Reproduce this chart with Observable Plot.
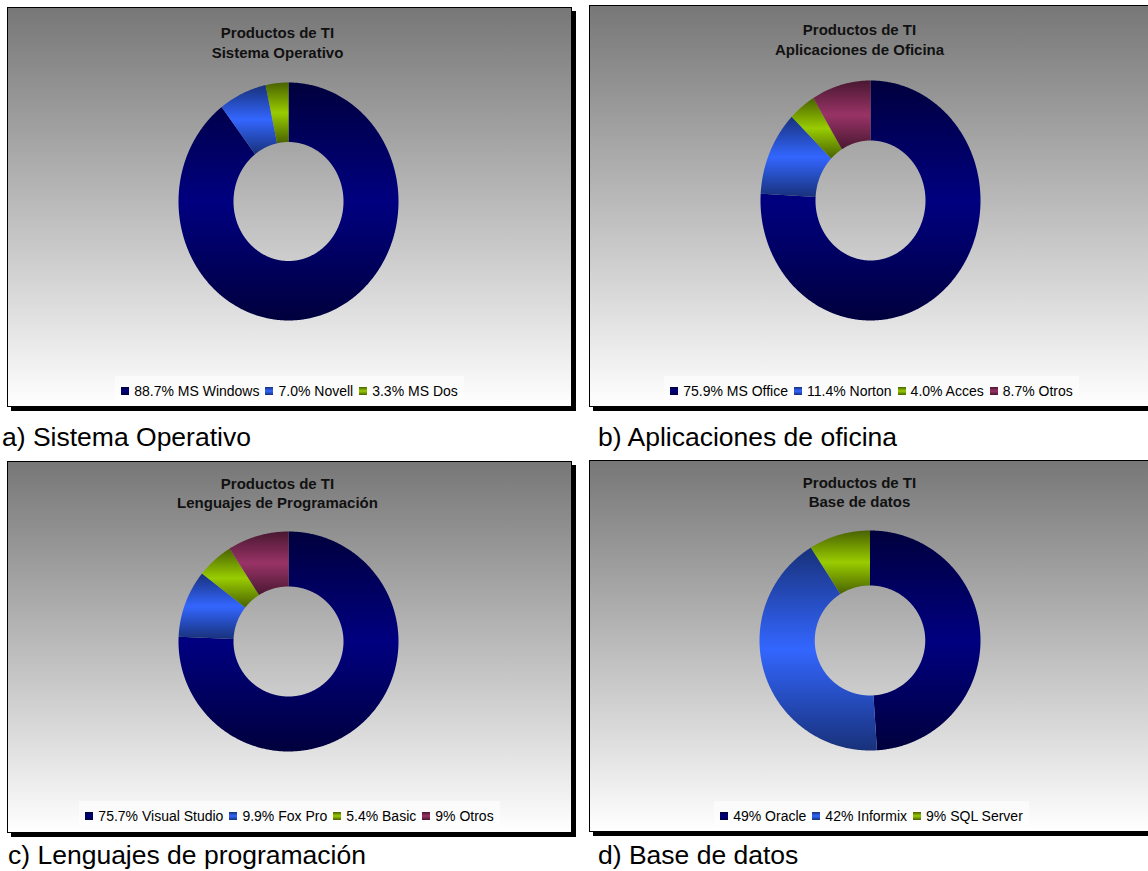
<!DOCTYPE html>
<html>
<head>
<meta charset="utf-8">
<script src="https://cdn.jsdelivr.net/npm/d3@7"></script>
<script src="https://cdn.jsdelivr.net/npm/@observablehq/plot@0.6"></script>
<style>
  body { margin: 0; background: #fff; font-family: "Liberation Sans", Arial, sans-serif; }
  #page { position: relative; width: 1148px; height: 871px; overflow: hidden; background: #fff; }
  .panel { position: absolute; box-sizing: border-box; border: 1px solid #000; box-shadow: 4px 4px 0 #000;
           background: linear-gradient(#777777 0%, #ffffff 100%); }
  .chart { position: absolute; }
  .title { position: absolute; text-align: center; font-weight: bold; font-size: 15px; line-height: 15px; color: #111; white-space: nowrap; }
  .legendWrap { position: absolute; display: flex; justify-content: center; }
  .legend { display: flex; align-items: center; font-size: 14px; line-height: 16px; color: #000; padding: 7px 6px 1px 6px;
            background: rgba(255,255,255,0.55); white-space: nowrap; }
  .sw { display: inline-block; width: 8px; height: 8px; margin-right: 5px; }
  .item { display: flex; align-items: center; margin-right: 6px; }
  .item:last-child { margin-right: 0; }
  .caption { position: absolute; font-size: 26.5px; line-height: 26px; color: #000; white-space: nowrap; }
</style>
</head>
<body>
<div id="page"></div>
<script>
// ---------- data ----------
const colors = ["#000080", "#3366ff", "#99cc00", "#993366"];

const soNames = ["MS Windows", "Novell", "MS Dos"];
const soValues = [88.7, 7.0, 3.3];
const soPct = ["88.7%", "7.0%", "3.3%"];

const ofNames = ["MS Office", "Norton", "Acces", "Otros"];
const ofValues = [75.9, 11.4, 4.0, 8.7];
const ofPct = ["75.9%", "11.4%", "4.0%", "8.7%"];

const lpNames = ["Visual Studio", "Fox Pro", "Basic", "Otros"];
const lpValues = [75.7, 9.9, 5.4, 9];
const lpPct = ["75.7%", "9.9%", "5.4%", "9%"];

const dbNames = ["Oracle", "Informix", "SQL Server"];
const dbValues = [49, 42, 9];
const dbPct = ["49%", "42%", "9%"];

const mainTitle = "Productos de TI";
const subTitles = ["Sistema Operativo", "Aplicaciones de Oficina", "Lenguajes de Programación", "Base de datos"];
const captions = ["a) Sistema Operativo", "b) Aplicaciones de oficina", "c) Lenguajes de programación", "d) Base de datos"];

// ---------- layout ----------
const panels = [
  {names: soNames, values: soValues, pct: soPct, left: 7, top: 7, w: 565, h: 400, cx: 281, cy: 194, rx: 110, ry: 119, t1: 24.6, t2: 44.8, lg: 376, capX: 2, capY: 423.5},
  {names: ofNames, values: ofValues, pct: ofPct, left: 589, top: 5, w: 565, h: 402, cx: 281, cy: 195, rx: 110, ry: 120, t1: 21.8, t2: 42.3, lg: 376, capX: 598, capY: 423.5},
  {names: lpNames, values: lpValues, pct: lpPct, left: 7, top: 461, w: 565, h: 372, cx: 281, cy: 180, rx: 110, ry: 110, t1: 475.6, t2: 494.6, lg: 801, capX: 8, capY: 841.8},
  {names: dbNames, values: dbValues, pct: dbPct, left: 589, top: 460, w: 565, h: 372, cx: 280.5, cy: 180, rx: 110.5, ry: 110, t1: 474.6, t2: 494.3, lg: 801, capX: 598, capY: 841.8}
];
const titleShift = -24; // titles centred ~12px left of the panel centre

const dark = c => d3.interpolateRgb(c, "#000")(0.52);

// gradient defs (shared by all SVGs)
const defsSvg = d3.select("body").append("svg").attr("width", 0).attr("height", 0)
  .style("position", "absolute").style("left", 0).style("top", 0);
const defs = defsSvg.append("defs");
colors.forEach((c, i) => {
  const g = defs.append("linearGradient").attr("id", "g" + i).attr("x1", 0).attr("y1", 0).attr("x2", 0).attr("y2", 1);
  g.append("stop").attr("offset", "0%").attr("stop-color", dark(c));
  g.append("stop").attr("offset", "50%").attr("stop-color", c);
  g.append("stop").attr("offset", "100%").attr("stop-color", dark(c));
});

function slicePoints(values, names) {
  const total = d3.sum(values);
  const pts = [];
  let acc = 0;
  values.forEach((v, i) => {
    const a0 = acc / total * 2 * Math.PI, a1 = (acc + v) / total * 2 * Math.PI;
    acc += v;
    const n = Math.max(2, Math.ceil((a1 - a0) / (Math.PI / 360)));
    for (let k = 0; k <= n; k++) {
      const a = a0 + (a1 - a0) * k / n;
      pts.push({key: names[i], fill: `url(#g${i})`, x: Math.sin(a), y: Math.cos(a)});
    }
    for (let k = n; k >= 0; k--) {
      const a = a0 + (a1 - a0) * k / n;
      pts.push({key: names[i], fill: `url(#g${i})`, x: 0.5 * Math.sin(a), y: 0.5 * Math.cos(a)});
    }
  });
  return pts;
}

const page = document.getElementById("page");

panels.forEach((p, pi) => {
  const panel = document.createElement("div");
  panel.className = "panel";
  Object.assign(panel.style, {left: p.left + "px", top: p.top + "px", width: p.w + "px", height: p.h + "px"});
  page.appendChild(panel);

  const chart = Plot.plot({
    width: p.w, height: p.h,
    margin: 0,
    style: {background: "transparent", maxWidth: "none", overflow: "visible"},
    x: {domain: [-1, 1], range: [p.cx - p.rx, p.cx + p.rx], axis: null},
    y: {domain: [-1, 1], range: [p.cy + p.ry, p.cy - p.ry], axis: null},
    color: {type: "identity"},
    marks: [
      Plot.line(slicePoints(p.values, p.names), {
        x: "x", y: "y", z: "key", fill: "fill", stroke: "none", curve: "linear-closed"
      })
    ]
  });
  chart.classList.add("chart");
  chart.style.left = p.left + "px";
  chart.style.top = p.top + "px";
  page.appendChild(chart);

  [[mainTitle, p.t1], [subTitles[pi], p.t2]].forEach(([txt, y]) => {
    const t = document.createElement("div");
    t.className = "title";
    t.textContent = txt;
    Object.assign(t.style, {left: p.left + "px", width: (p.w + titleShift) + "px", top: y + "px"});
    page.appendChild(t);
  });

  const wrap = document.createElement("div");
  wrap.className = "legendWrap";
  Object.assign(wrap.style, {left: p.left + "px", width: p.w + "px", top: p.lg + "px"});
  const lg = document.createElement("div");
  lg.className = "legend";
  p.names.forEach((n, i) => {
    const it = document.createElement("span");
    it.className = "item";
    const sw = document.createElement("span");
    sw.className = "sw";
    sw.style.background = `linear-gradient(${dark(colors[i])}, ${colors[i]}, ${dark(colors[i])})`;
    it.appendChild(sw);
    const tx = document.createElement("span");
    tx.textContent = p.pct[i] + " " + n;
    it.appendChild(tx);
    lg.appendChild(it);
  });
  wrap.appendChild(lg);
  page.appendChild(wrap);

  const cap = document.createElement("div");
  cap.className = "caption";
  cap.textContent = captions[pi];
  Object.assign(cap.style, {left: p.capX + "px", top: p.capY + "px"});
  page.appendChild(cap);
});
</script>
</body>
</html>
